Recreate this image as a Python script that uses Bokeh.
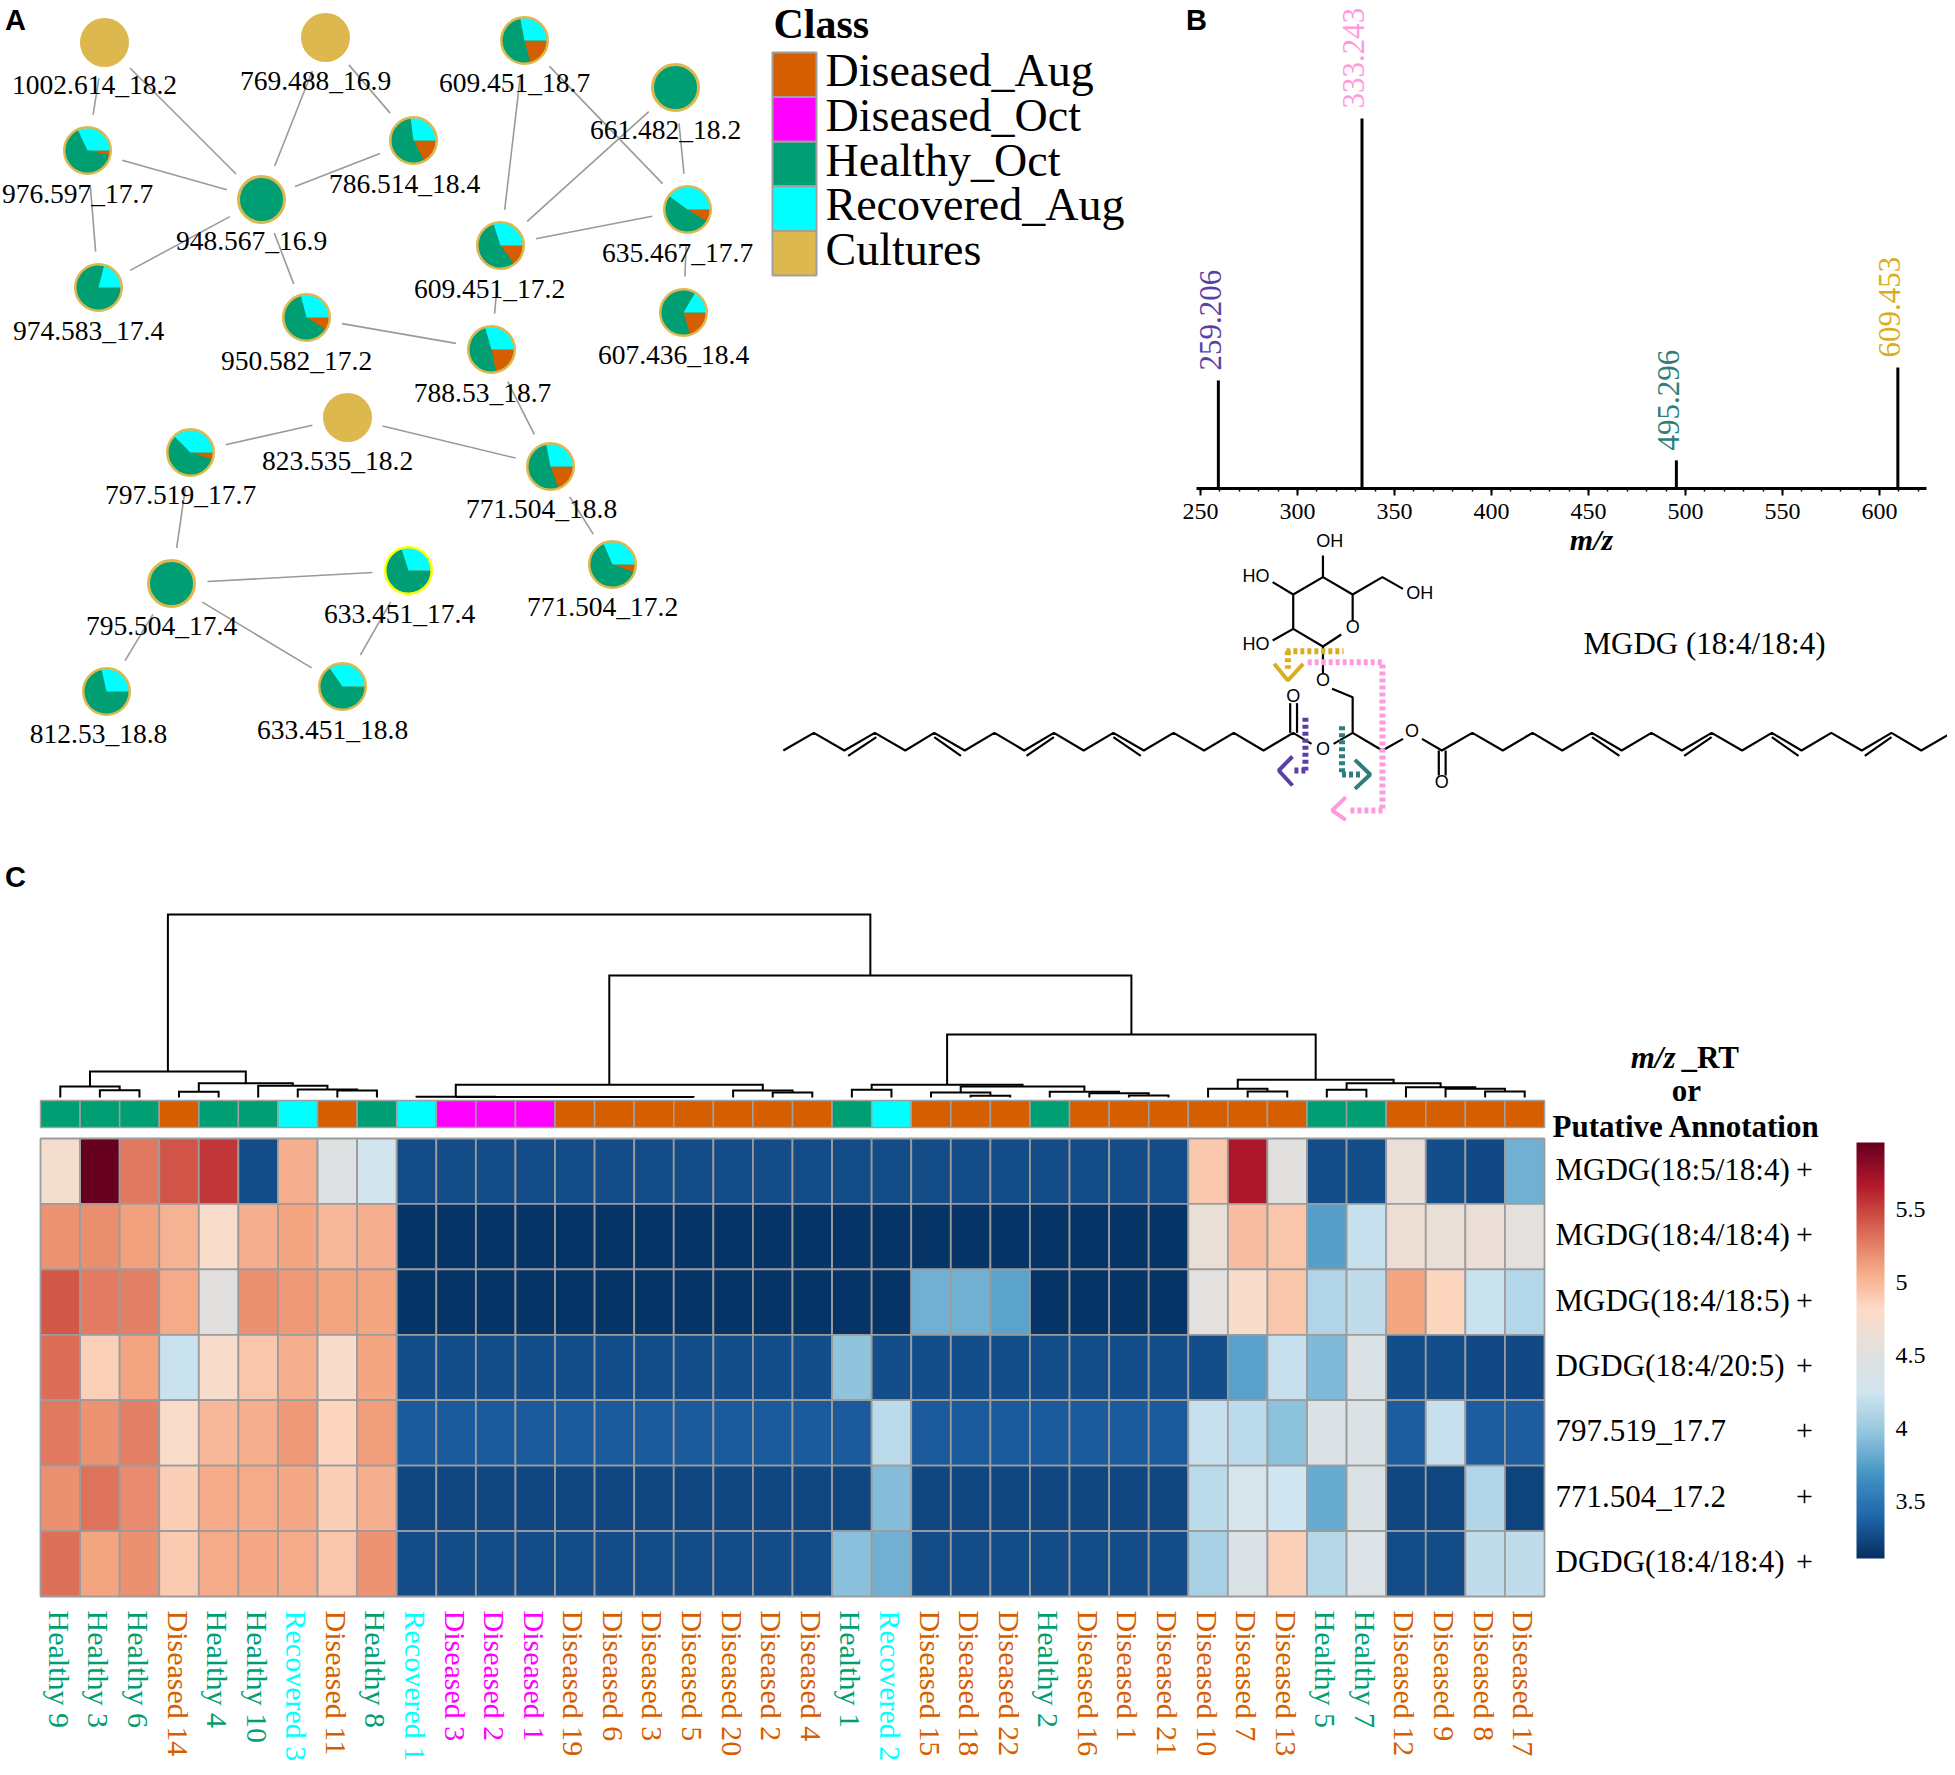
import math
import numpy as np
from bokeh.plotting import figure
from bokeh.embed import file_html
from bokeh.resources import INLINE
from bokeh.core.properties import value
from bokeh.models import (Range1d, LinearAxis, SingleIntervalTicker, FixedTicker, ColorBar,
                          LinearColorMapper, NumeralTickFormatter, ColumnDataSource)

# ---------------- data ----------------
CLASS_NAMES = ["Diseased_Aug", "Diseased_Oct", "Healthy_Oct", "Recovered_Aug", "Cultures"]
CLASS_COLORS = ["#D55E00", "#FF00FF", "#009E73", "#00FFFF", "#DDB84F"]

node_names = ["1002.614_18.2", "769.488_16.9", "609.451_18.7", "661.482_18.2", "976.597_17.7",
              "786.514_18.4", "948.567_16.9", "609.451_17.2", "635.467_17.7", "974.583_17.4",
              "950.582_17.2", "607.436_18.4", "788.53_18.7", "823.535_18.2", "797.519_17.7",
              "771.504_18.8", "771.504_17.2", "795.504_17.4", "633.451_17.4", "812.53_18.8",
              "633.451_18.8"]
node_x = [104, 325, 524, 675, 87, 413, 261, 500, 687, 98, 306, 683, 491, 347, 190, 550, 612, 171, 408, 106, 342]
node_y = [42, 37, 40, 87, 150, 140, 199, 245, 209, 287, 317, 312, 349, 417, 452, 466, 564, 583, 570, 691, 686]
label_x = [94, 315, 514, 665, 77, 404, 251, 489, 677, 88, 296, 673, 482, 337, 180, 541, 602, 161, 399, 98, 332]
label_y = [84, 80, 82, 129, 193, 183, 240, 288, 252, 330, 360, 354, 392, 460, 494, 508, 606, 625, 613, 733, 729]
# pie shares per node
frac_dis_aug = [0, 0, .21, 0, .035, .175, 0, .15, .09, 0, .09, .205, .22, 0, .05, .195, .055, 0, .01, 0, .015]
frac_healthy = [0, 0, .51, 1, .645, .555, 1, .55, .51, .79, .62, .63, .485, 0, .575, .525, .63, 1, .69, .715, .638]
frac_recover = [0, 0, .28, 0, .32, .27, 0, .30, .40, .21, .29, .165, .295, 0, .375, .28, .315, 0, .30, .285, .347]
frac_culture = [1, 1, 0, 0, 0, 0, 0, 0, 0, 0, 0, 0, 0, 1, 0, 0, 0, 0, 0, 0, 0]
edges = [("1002.614_18.2", "948.567_16.9"), ("1002.614_18.2", "976.597_17.7"), ("976.597_17.7", "948.567_16.9"),
         ("976.597_17.7", "974.583_17.4"), ("974.583_17.4", "948.567_16.9"), ("769.488_16.9", "948.567_16.9"),
         ("769.488_16.9", "786.514_18.4"), ("786.514_18.4", "948.567_16.9"), ("948.567_16.9", "950.582_17.2"),
         ("950.582_17.2", "788.53_18.7"), ("609.451_18.7", "609.451_17.2"), ("609.451_18.7", "635.467_17.7"),
         ("661.482_18.2", "609.451_17.2"), ("661.482_18.2", "635.467_17.7"), ("609.451_17.2", "635.467_17.7"),
         ("635.467_17.7", "607.436_18.4"), ("609.451_17.2", "788.53_18.7"), ("788.53_18.7", "771.504_18.8"),
         ("823.535_18.2", "797.519_17.7"), ("823.535_18.2", "771.504_18.8"), ("771.504_18.8", "771.504_17.2"),
         ("797.519_17.7", "795.504_17.4"), ("795.504_17.4", "633.451_17.4"), ("795.504_17.4", "633.451_18.8"),
         ("795.504_17.4", "812.53_18.8"), ("633.451_17.4", "633.451_18.8")]

peak_mz = [259.206, 333.243, 495.296, 609.453]
peak_int = [29.2, 100, 7.6, 32.7]
peak_colors = ["#5B3FA8", "#FF9ADF", "#2E7F7C", "#D9AE1E"]

col_labels = ["Healthy 9", "Healthy 3", "Healthy 6", "Diseased 14", "Healthy 4", "Healthy 10", "Recovered 3",
              "Diseased 11", "Healthy 8", "Recovered 1", "Diseased 3", "Diseased 2", "Diseased 1", "Diseased 19",
              "Diseased 6", "Diseased 3", "Diseased 5", "Diseased 20", "Diseased 2", "Diseased 4", "Healthy 1",
              "Recovered 2", "Diseased 15", "Diseased 18", "Diseased 22", "Healthy 2", "Diseased 16", "Diseased 1",
              "Diseased 21", "Diseased 10", "Diseased 7", "Diseased 13", "Healthy 5", "Healthy 7", "Diseased 12",
              "Diseased 9", "Diseased 8", "Diseased 17"]
col_class = ["H", "H", "H", "A", "H", "H", "R", "A", "H", "R", "O", "O", "O", "A", "A", "A", "A", "A", "A", "A", "H",
             "R", "A", "A", "A", "H", "A", "A", "A", "A", "A", "A", "H", "H", "A", "A", "A", "A"]
row_labels = ["MGDG(18:5/18:4)", "MGDG(18:4/18:4)", "MGDG(18:4/18:5)", "DGDG(18:4/20:5)", "797.519_17.7",
              "771.504_17.2", "DGDG(18:4/18:4)"]
row1 = [4.72, 5.95, 5.28, 5.43, 5.55, 3.26, 5.05, 4.47, 4.27, 3.26, 3.26, 3.26, 3.26, 3.26, 3.26, 3.26, 3.26, 3.26,
        3.26, 3.26, 3.26, 3.26, 3.26, 3.26, 3.26, 3.26, 3.26, 3.26, 3.26, 4.92, 5.68, 4.53, 3.26, 3.27, 4.60, 3.27,
        3.25, 3.85]
row2 = [5.17, 5.19, 5.12, 5.03, 4.78, 5.05, 5.09, 5.00, 5.05, 3.14, 3.14, 3.14, 3.14, 3.14, 3.14, 3.14, 3.14, 3.14,
        3.14, 3.14, 3.14, 3.14, 3.14, 3.14, 3.14, 3.14, 3.14, 3.14, 3.14, 4.62, 4.97, 4.93, 3.75, 4.20, 4.64, 4.62,
        4.63, 4.54]
row3 = [5.42, 5.27, 5.25, 5.07, 4.52, 5.18, 5.15, 5.10, 5.10, 3.14, 3.14, 3.14, 3.14, 3.14, 3.14, 3.14, 3.14, 3.14,
        3.14, 3.14, 3.14, 3.14, 3.85, 3.85, 3.77, 3.14, 3.14, 3.14, 3.14, 4.54, 4.75, 4.93, 4.10, 4.17, 5.09, 4.85,
        4.22, 4.12]
row4 = [5.33, 4.87, 5.10, 4.22, 4.75, 4.93, 5.05, 4.75, 5.09, 3.27, 3.27, 3.27, 3.27, 3.27, 3.27, 3.27, 3.27, 3.27,
        3.27, 3.27, 3.96, 3.27, 3.27, 3.27, 3.27, 3.27, 3.27, 3.27, 3.27, 3.27, 3.76, 4.20, 3.90, 4.40, 3.27, 3.27,
        3.25, 3.25]
row5 = [5.28, 5.17, 5.25, 4.78, 5.00, 5.05, 5.15, 4.85, 5.13, 3.34, 3.34, 3.34, 3.34, 3.34, 3.34, 3.34, 3.34, 3.34,
        3.34, 3.34, 3.34, 4.15, 3.34, 3.34, 3.34, 3.34, 3.34, 3.34, 3.34, 4.20, 4.15, 3.95, 4.42, 4.42, 3.35, 4.20,
        3.35, 3.35]
row6 = [5.18, 5.31, 5.20, 4.88, 5.07, 5.07, 5.08, 4.88, 5.05, 3.24, 3.24, 3.24, 3.24, 3.24, 3.24, 3.24, 3.24, 3.24,
        3.24, 3.24, 3.24, 3.92, 3.24, 3.24, 3.24, 3.24, 3.24, 3.24, 3.24, 4.15, 4.33, 4.25, 3.82, 4.42, 3.24, 3.24,
        4.10, 3.22]
row7 = [5.32, 5.10, 5.18, 4.90, 5.07, 5.08, 5.06, 4.93, 5.17, 3.26, 3.26, 3.26, 3.26, 3.26, 3.26, 3.26, 3.26, 3.26,
        3.26, 3.26, 3.94, 3.85, 3.26, 3.26, 3.26, 3.26, 3.26, 3.26, 3.26, 4.07, 4.40, 4.87, 4.13, 4.43, 3.26, 3.26,
        4.17, 4.17]
colorbar_ticks = [3.5, 4, 4.5, 5, 5.5]
heat_low, heat_high = 3.11, 5.955

# dendrogram merges: name, left child, right child, height (leaves are column indices)
merges = [("a", 1, 2, 7.3), ("b", 0, "a", 11), ("c", 3, 4, 5.7), ("d", 7, 8, 7), ("e", 6, "d", 8), ("f", 5, "e", 11.7),
          ("g", "c", "f", 14.3), ("h", "b", "g", 26),
          ("i", 15, 16, .4), ("j", 14, "i", .4), ("k", 13, "j", .5), ("l", 12, "k", .5), ("m", 11, "l", .5),
          ("n", 10, "m", .6), ("o", 9, "n", .7), ("p", 18, 19, 5), ("q", 17, "p", 7), ("r", "o", "q", 12.7),
          ("s", 20, 21, 7.7), ("t", 23, 24, 1.7), ("u", 22, "t", 5), ("v", 27, 28, 2), ("w", 26, "v", 4.3),
          ("x", 25, "w", 5.7), ("y", "u", "x", 11), ("z", "s", "y", 12.7),
          ("aa", 30, 31, 6), ("ab", 29, "aa", 8.7), ("ac", 32, 33, 7.7), ("ad", 36, 37, 6), ("ae", 35, "ad", 8.7),
          ("af", 34, "ae", 10.3), ("ag", "ac", "af", 14.3), ("ah", "ab", "ag", 17.7),
          ("ai", "z", "ah", 63), ("aj", "r", "ai", 122), ("root", "h", "aj", 183)]

# structure sketch, in drawing units (single bonds as polylines)
chain_left_x = [30, 70, 110, 150, 190, 228, 268, 307, 346, 385, 424, 463, 503, 542, 582, 621, 660, 699, 723]
chain_left_y = [690, 637, 690, 637, 690, 637, 690, 637, 690, 637, 690, 637, 690, 637, 690, 637, 690, 637, 670]
chain_right_x = [868, 894, 934, 974, 1013, 1052, 1091, 1130, 1169, 1209, 1248, 1288, 1327, 1366, 1405, 1445, 1484, 1523, 1563]
chain_right_y = [655, 690, 637, 690, 637, 690, 637, 690, 637, 690, 637, 690, 637, 690, 637, 690, 637, 690, 637]
bond_lines = [
    ([115, 152], [706, 650]), ([228, 263], [650, 706]), ([349, 385], [706, 650]), ([463, 499], [650, 706]),
    ([1091, 1127], [650, 706]), ([1212, 1248], [706, 650]), ([1327, 1362], [650, 706]), ([1449, 1484], [706, 650]),
    ([890, 890], [690, 765]), ([899, 899], [690, 765]), ([695, 695], [637, 548]), ([704, 704], [637, 548]),
    ([752, 777, 816, 843], [670, 637, 690, 655]), ([777, 777, 750], [637, 530, 505]), ([738, 738], [458, 378]),
    ([762, 738, 699, 699, 738, 777, 777], [342, 378, 325, 222, 170, 222, 300]),
    ([738, 738], [170, 105]), ([699, 672], [222, 185]), ([699, 672], [325, 360]), ([777, 816, 843], [222, 170, 205]),
]
atom_text = ["OH", "HO", "HO", "OH", "O", "O", "O", "O", "O", "O"]
atom_x = [747, 650, 650, 865, 777, 738, 699, 738, 855, 894]
atom_y = [62, 165, 370, 217, 320, 478, 527, 685, 630, 785]
dash_paths = [
    ("#D9AE1E", [690, 765], [392, 392]), ("#D9AE1E", [692, 692], [392, 445]),
    ("#FF9ADF", [718, 816, 816], [425, 425, 870]), ("#FF9ADF", [816, 770], [870, 870]),
    ("#5B3FA8", [715, 715], [592, 750]), ("#5B3FA8", [715, 697], [750, 750]),
    ("#2E7F7C", [763, 763], [617, 762]), ("#2E7F7C", [763, 788], [762, 762]),
]
chevrons = [
    ("#D9AE1E", [674, 692, 712], [430, 480, 430]), ("#FF9ADF", [768, 750, 768], [830, 870, 898]),
    ("#5B3FA8", [698, 680, 698], [708, 750, 795]), ("#2E7F7C", [780, 800, 780], [718, 762, 805]),
]

# ---------------- layout ----------------
PX0, PX1, PY0, PY1 = 0, 1947, 0, 1767
SERIF, SANS = "Liberation Serif", "Liberation Sans"


def span(v0, p0, v1, p1, lo, hi):
    k = (v1 - v0) / (p1 - p0)
    return Range1d(v0 + (lo - p0) * k, v0 + (hi - p0) * k)


p = figure(width=PX1 - PX0, height=PY1 - PY0, output_backend="svg", toolbar_location=None,
           x_range=Range1d(PX0, PX1), y_range=Range1d(PY1, PY0), x_axis_type=None, y_axis_type=None,
           min_border=0, outline_line_color=None)
p.grid.visible = False
p.extra_x_ranges = {"mz": span(250, 1200, 600, 1879, PX0, PX1),
                    "hm": span(0, 40, 38, 1544, PX0, PX1),
                    "st": span(0, 760, 1568, 1955, PX0, PX1)}
p.extra_y_ranges = {"int": span(0, 488, 100, 118, PY1, PY0),
                    "hm": span(0, 1138, 7, 1596, PY1, PY0),
                    "den": span(0, 1097, 183, 914, PY1, PY0),
                    "st": span(0, 520, 900, 820, PY1, PY0)}


def txt(x, y, s, size, color="#000000", font=SERIF, style="normal", align="center", base="middle", angle=0, **kw):
    p.text(x=x if isinstance(x, list) else [x], y=y if isinstance(y, list) else [y],
           text=s if isinstance(s, list) else [s], text_font=value(font), text_font_size=value(size),
           text_font_style=style, text_color=color, text_align=align, text_baseline=base, angle=angle, **kw)


# ---- panel letters
txt(15, 19, "A", "29px", font=SANS, style="bold")
txt(1196, 19, "B", "29px", font=SANS, style="bold")
txt(15, 876, "C", "29px", font=SANS, style="bold")

# ---- panel A: network
idx = {n: i for i, n in enumerate(node_names)}
GAP = 36
for a, b in edges:
    x0, y0, x1, y1 = node_x[idx[a]], node_y[idx[a]], node_x[idx[b]], node_y[idx[b]]
    d = math.hypot(x1 - x0, y1 - y0)
    ux, uy = (x1 - x0) / d, (y1 - y0) / d
    p.line([x0 + ux * GAP, x1 - ux * GAP], [y0 + uy * GAP, y1 - uy * GAP], line_color="#9A9A9A", line_width=1.6)

for i, name in enumerate(node_names):
    x, y = node_x[i], node_y[i]
    if frac_culture[i] == 1:
        p.circle([x], [y], radius=24.5, fill_color=CLASS_COLORS[4], line_color=None)
        continue
    border = "#FFFF00" if name == "633.451_17.4" else CLASS_COLORS[4]
    p.circle([x], [y], radius=23, fill_color=CLASS_COLORS[2], line_color=border, line_width=3)
    if frac_healthy[i] == 1:
        continue
    cum = 0.0
    for fr, colr in ((frac_dis_aug[i], CLASS_COLORS[0]), (frac_healthy[i], CLASS_COLORS[2]), (frac_recover[i], CLASS_COLORS[3])):
        if fr > 0:
            p.wedge([x], [y], radius=22, start_angle=-(cum + fr) * 2 * math.pi, end_angle=-cum * 2 * math.pi,
                    direction="anticlock", fill_color=colr, line_color=None)
        cum += fr
txt(label_x, label_y, node_names, "27.5px")

# ---- legend
LEG_X0, LEG_X1, LEG_Y0, LEG_H = 772, 816, 52, 44.6
txt(773, 23, "Class", "42px", style="bold", align="left")
for i, (nm, c) in enumerate(zip(CLASS_NAMES, CLASS_COLORS)):
    yc = LEG_Y0 + LEG_H * (i + .5)
    p.rect([(LEG_X0 + LEG_X1) / 2], [yc], width=LEG_X1 - LEG_X0, height=LEG_H, fill_color=c, line_color="#A0A0A0", line_width=2)
    txt(825, yc - 4, nm, "46px", align="left")

# ---- panel B: spectrum
p.segment(x0=peak_mz, y0=[0] * 4, x1=peak_mz, y1=peak_int, x_range_name="mz", y_range_name="int",
          line_color="#000000", line_width=3)
for mz, h, c in zip(peak_mz, peak_int, peak_colors):
    p.text(x=[mz], y=[h], text=[f"{mz:.3f}"], x_range_name="mz", y_range_name="int", angle=math.pi / 2,
           text_font=value(SERIF), text_font_size=value("31px"), text_color=c, text_align="left",
           text_baseline="middle", x_offset=-8, y_offset=-10)
ax = LinearAxis(x_range_name="mz", fixed_location=488, bounds=(248, 624),
                ticker=SingleIntervalTicker(interval=50, num_minor_ticks=5))
ax.axis_line_width = 3
ax.axis_line_color = "#000000"
ax.major_tick_line_color = "#000000"
ax.major_tick_line_width = 2
ax.major_tick_in = 0
ax.major_tick_out = 7
ax.minor_tick_line_color = "#000000"
ax.minor_tick_line_width = 1.5
ax.minor_tick_in = 0
ax.minor_tick_out = 3
ax.major_label_text_font = SERIF
ax.major_label_text_font_size = "24px"
ax.major_label_text_color = "#000000"
ax.major_label_standoff = 8
p.add_layout(ax, "below")
txt(1591, 539, "m/z", "30px", style="bold italic")
txt(1704, 643, "MGDG (18:4/18:4)", "31px")

# ---- structure
bond = dict(x_range_name="st", y_range_name="st", line_color="#000000", line_width=2.2)
p.line(chain_left_x, chain_left_y, **bond)
p.line(chain_right_x, chain_right_y, **bond)
for bx, by in bond_lines:
    p.line(bx, by, **bond)
p.text(x=atom_x, y=atom_y, text=atom_text, x_range_name="st", y_range_name="st", text_font=value(SANS),
       text_font_size=value("18px"), text_color="#000000", text_align="center", text_baseline="middle")
for c, dx, dy in dash_paths:
    p.line(dx, dy, x_range_name="st", y_range_name="st", line_color=c, line_width=6, line_dash="4 3")
for c, dx, dy in chevrons:
    p.line(dx, dy, x_range_name="st", y_range_name="st", line_color=c, line_width=4)

# ---- panel C: dendrogram
n_col = len(col_labels)
pos = {i: i + .5 for i in range(n_col)}
hgt = {i: 0.0 for i in range(n_col)}
for name, left, right, h in merges:
    xl, xr = pos[left], pos[right]
    p.line([xl, xl, xr, xr], [hgt[left], h, h, hgt[right]], x_range_name="hm", y_range_name="den",
           line_color="#000000", line_width=2, line_join="miter")
    pos[name], hgt[name] = (xl + xr) / 2, h

# ---- class bar
cmap = {"A": CLASS_COLORS[0], "O": CLASS_COLORS[1], "H": CLASS_COLORS[2], "R": CLASS_COLORS[3]}
col_colors = [cmap[c] for c in col_class]
cols_mid = [i + .5 for i in range(n_col)]
p.rect(x=cols_mid, y=[1113.5] * n_col, width=1, height=27, x_range_name="hm", fill_color=col_colors,
       line_color="#A0A0A0", line_width=1.5)

# ---- heatmap
stops = ["#053061", "#2166AC", "#4393C3", "#92C5DE", "#D1E5F0", "#E2E0DE", "#FDDBC7", "#F4A582", "#D6604D", "#B2182B", "#67001F"]
rgb = np.array([[int(s[i:i + 2], 16) for i in (1, 3, 5)] for s in stops], float)
grid = np.linspace(0, 10, 256)
palette = ["#%02x%02x%02x" % tuple(int(round(np.interp(g, range(11), rgb[:, k]))) for k in range(3)) for g in grid]
mapper = LinearColorMapper(palette=palette, low=heat_low, high=heat_high)

rows = [row1, row2, row3, row4, row5, row6, row7]
hx, hy, hv = [], [], []
for r, vals in enumerate(rows):
    for c, v in enumerate(vals):
        hx.append(c + .5)
        hy.append(r + .5)
        hv.append(v)
hsrc = ColumnDataSource({"x": hx, "y": hy, "v": hv})
p.rect(x="x", y="y", width=1, height=1, x_range_name="hm", y_range_name="hm", source=hsrc,
       fill_color={"field": "v", "transform": mapper}, line_color="#9C9C9C", line_width=1.8)

# column labels
class_text = [cmap[c] for c in col_class]
p.text(x=cols_mid, y=[1610] * n_col, text=col_labels, x_range_name="hm", angle=-math.pi / 2,
       text_font=value(SERIF), text_font_size=value("30px"), text_color=class_text, text_align="left",
       text_baseline="middle", x_offset=-1)
# row labels
rows_mid = [r + .5 for r in range(len(row_labels))]
p.text(x=[1555] * 7, y=rows_mid, text=row_labels, y_range_name="hm", text_font=value(SERIF),
       text_font_size=value("31px"), text_color="#000000", text_align="left", text_baseline="middle", y_offset=-2)
p.text(x=[1804] * 7, y=rows_mid, text=["+"] * 7, y_range_name="hm", text_font=value(SERIF),
       text_font_size=value("30px"), text_color="#000000", text_align="center", text_baseline="middle", y_offset=-2)
txt(1675, 1057, "m/z", "31px", style="bold italic", align="right")
txt(1681, 1057, "_RT", "31px", style="bold", align="left")
txt(1686, 1090, "or", "31px", style="bold")
txt(1686, 1126, "Putative Annotation", "31px", style="bold")

# ---- colour bar
cb = ColorBar(color_mapper=mapper, ticker=FixedTicker(ticks=colorbar_ticks), formatter=NumeralTickFormatter(format="0.[0]"),
              location=(1856 - PX0, PY1 - 1558), width=28, height=416, padding=0, margin=0, label_standoff=11,
              major_tick_line_color=None, minor_tick_line_color=None, bar_line_color=None,
              major_label_text_font=SERIF, major_label_text_font_size="24px", major_label_text_color="#000000")
p.add_layout(cb, "center")

open("out.html", "w").write(file_html(p, INLINE))
